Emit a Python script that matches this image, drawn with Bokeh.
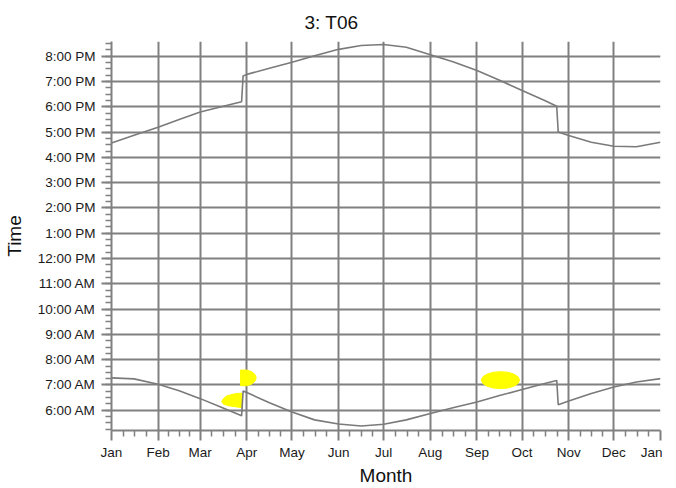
from bokeh.plotting import figure
from bokeh.models import FixedTicker, Range1d, Title
from bokeh.embed import file_html
from bokeh.resources import INLINE

# ---- data ----
month_labels = ["Jan", "Feb", "Mar", "Apr", "May", "Jun", "Jul",
                "Aug", "Sep", "Oct", "Nov", "Dec", "Jan"]
month_start_days = [0, 31, 59, 90, 120, 151, 181, 212, 243, 273, 304, 334, 365]

hour_ticks = [6, 7, 8, 9, 10, 11, 12, 13, 14, 15, 16, 17, 18, 19, 20]
hour_labels = ["6:00 AM", "7:00 AM", "8:00 AM", "9:00 AM", "10:00 AM", "11:00 AM",
               "12:00 PM", "1:00 PM", "2:00 PM", "3:00 PM", "4:00 PM", "5:00 PM",
               "6:00 PM", "7:00 PM", "8:00 PM"]

# sunset (hours, clock time)
sunset_days = [0, 15, 31, 45, 59, 73, 86.5, 87.5, 90, 105, 120, 135, 151, 166, 181,
               196, 212, 227, 243, 258, 273, 288, 296, 297, 304, 319, 334, 349, 365]
sunset_hours = [16.57, 16.87, 17.19, 17.50, 17.79, 18.00, 18.20, 19.22, 19.28, 19.52,
                19.76, 20.02, 20.27, 20.42, 20.46, 20.35, 20.06, 19.78, 19.43, 19.05,
                18.64, 18.25, 18.02, 17.00, 16.86, 16.60, 16.44, 16.42, 16.60]

# sunrise (hours, clock time)
sunrise_days = [0, 15, 31, 45, 59, 73, 86.5, 87.5, 90, 105, 120, 135, 151, 166, 181,
                196, 212, 227, 243, 258, 273, 288, 296, 297, 304, 319, 334, 349, 365]
sunrise_hours = [7.28, 7.24, 7.03, 6.77, 6.46, 6.12, 5.78, 6.76, 6.70, 6.30, 5.93,
                 5.62, 5.46, 5.38, 5.45, 5.62, 5.87, 6.10, 6.33, 6.58, 6.82, 7.06,
                 7.18, 6.22, 6.37, 6.66, 6.92, 7.12, 7.25]

# shadow-flicker periods (day of year, hour)
flicker_a_days = [86.6, 81.1, 76.5, 74.1, 73.3, 74.5, 77.8, 82.4, 86.4]
flicker_a_hours = [6.68, 6.64, 6.56, 6.44, 6.34, 6.24, 6.18, 6.14, 6.10]
flicker_b_days = [85.8, 89.8, 93.1, 95.4, 96.2, 95.4, 93.1, 89.8, 85.8]
flicker_b_hours = [7.59, 7.59, 7.53, 7.41, 7.29, 7.15, 7.03, 6.97, 6.97]
flicker_c_day = [258.6]
flicker_c_hour = [7.19]
flicker_c_width_days = [25.3]
flicker_c_height_hours = [0.67]

# ---- figure ----
GRID = "#808080"
FONT = "Liberation Sans"
X0, X1 = 0, 365
Y0, Y1 = 5.2, 20.58

p = figure(frame_width=549, frame_height=389, output_backend="svg", toolbar_location=None,
           x_range=Range1d(X0, X1), y_range=Range1d(Y0, Y1),
           min_border_left=110, min_border_right=2,
           min_border_top=41, min_border_bottom=0)
p.outline_line_color = None

p.title = Title(text="3: T06", align="left", offset=193, standoff=18,
                text_font=FONT, text_font_size="19px", text_font_style="normal",
                text_color="#111111")

# minor tick positions (quarter months, quarter hours)
minor_x = []
for a, b in zip(month_start_days[:-1], month_start_days[1:]):
    minor_x += [a + (b - a) * k / 4 for k in range(1, 4)]
minor_y = [5.25 + 0.25 * k for k in range(62)]

p.xaxis.ticker = FixedTicker(ticks=month_start_days, minor_ticks=minor_x)
p.xaxis.major_label_overrides = {d: l for d, l in zip(month_start_days, month_labels)}
p.yaxis.ticker = FixedTicker(ticks=hour_ticks, minor_ticks=minor_y)
p.yaxis.major_label_overrides = {h: l for h, l in zip(hour_ticks, hour_labels)}

p.xgrid.ticker = FixedTicker(ticks=month_start_days[:-1])
p.ygrid.ticker = FixedTicker(ticks=hour_ticks)
for g in (p.xgrid, p.ygrid):
    g.grid_line_color = GRID
    g.grid_line_width = 2

for ax in (p.xaxis, p.yaxis):
    ax.axis_line_color = GRID
    ax.axis_line_width = 2
    ax.major_tick_line_color = GRID
    ax.major_tick_line_width = 2
    ax.minor_tick_line_color = GRID
    ax.minor_tick_line_width = 1.5
    ax.major_tick_out = 10
    ax.major_tick_in = 0
    ax.minor_tick_out = 6
    ax.minor_tick_in = 0
    ax.major_label_text_font = FONT
    ax.major_label_text_font_size = "13.5px"
    ax.major_label_text_color = "#1a1a1a"
    ax.axis_label_text_font = FONT
    ax.axis_label_text_font_size = "19px"
    ax.axis_label_text_font_style = "normal"
    ax.axis_label_text_color = "#111111"

p.xaxis.axis_label = "Month"
p.yaxis.axis_label = "Time"
p.xaxis.major_label_standoff = 4
p.yaxis.major_label_standoff = 6
p.xaxis.axis_label_standoff = 2
p.yaxis.axis_label_standoff = 10

# flicker regions
p.patch(flicker_a_days, flicker_a_hours, fill_color="#ffff00", line_color="#ffff00", line_width=1)
p.patch(flicker_b_days, flicker_b_hours, fill_color="#ffff00", line_color="#ffff00", line_width=1)
p.ellipse(x=flicker_c_day, y=flicker_c_hour, width=flicker_c_width_days,
          height=flicker_c_height_hours, fill_color="#ffff00", line_color="#ffff00")

# sunrise / sunset
p.line(sunset_days, sunset_hours, line_color="#7a7a7a", line_width=1.6)
p.line(sunrise_days, sunrise_hours, line_color="#7a7a7a", line_width=1.6)

open("out.html", "w").write(file_html(p, INLINE))
